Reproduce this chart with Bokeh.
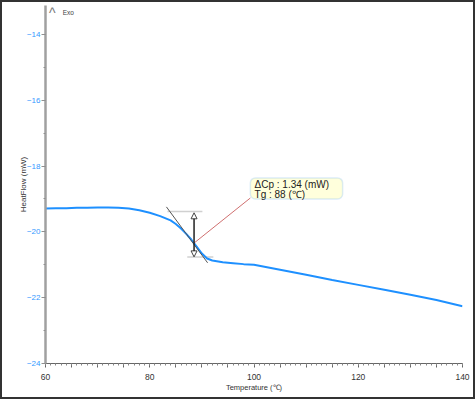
from bokeh.plotting import figure
from bokeh.models import Range1d, FixedTicker, BoxAnnotation, Arrow, NormalHead
from bokeh.core.properties import value
from bokeh.embed import file_html
from bokeh.resources import INLINE

# ---- data ----
temperature = [60, 62, 64, 66, 68, 70, 72, 74, 76, 78, 80, 82, 84, 85, 86, 87, 88, 89, 90,
               91, 92, 94, 96, 98, 100, 105, 110, 115, 120, 125, 130, 135, 140]
heat_flow = [-19.29, -19.28, -19.28, -19.27, -19.27, -19.26, -19.26, -19.27, -19.29, -19.34,
             -19.42, -19.52, -19.65, -19.76, -19.90, -20.06, -20.24, -20.45, -20.66, -20.81,
             -20.87, -20.92, -20.95, -20.98, -21.00, -21.15, -21.30, -21.46, -21.61, -21.76,
             -21.91, -22.07, -22.26]

x_ticks = [60, 80, 100, 120, 140]
y_ticks = [-24, -22, -20, -18, -16, -14]

# glass transition analysis
tg_temp = 88.5
tg_flow = -20.34
tangent_x = [83.2, 91.1]
tangent_y = [-19.24, -20.94]
upper_base_x = [83.4, 90.1]
upper_base_y = [-19.38, -19.38]
lower_base_x = [87.2, 92.2]
lower_base_y = [-20.76, -20.76]
step_top = -19.42
step_bottom = -20.76
label_lines = ["\u0394Cp :  1.34 (mW)", "Tg :  88 (\u2103)"]

FONT = "Liberation Sans"

p = figure(width=475, height=399, output_backend="svg", toolbar_location=None,
           x_range=Range1d(60, 140), y_range=Range1d(-24, -13.12),
           min_border_left=43, min_border_right=15, min_border_top=3, min_border_bottom=38,
           styles={"border": "2px solid #333333"})
p.outline_line_color = None
p.grid.visible = False
p.background_fill_color = "white"
p.border_fill_color = "white"

# x axis
xa = p.xaxis[0]
xa.ticker = FixedTicker(ticks=list(range(60, 141, 5)), minor_ticks=list(range(60, 141, 1)))
xa.major_label_overrides = {t: "" for t in range(60, 141, 5) if t not in x_ticks}
xa.axis_line_color = "#666666"
xa.major_tick_line_color = "#666666"
xa.minor_tick_line_color = "#888888"
xa.major_tick_out = 4
xa.major_tick_in = 0
xa.minor_tick_out = 2
xa.minor_tick_in = 0
xa.major_label_text_font = FONT
xa.major_label_text_font_size = "8.5px"
xa.major_label_text_color = "#333333"
xa.major_label_standoff = 6
xa.axis_label = "Temperature (\u2103)"
xa.axis_label_text_font = FONT
xa.axis_label_text_font_size = "7.5px"
xa.axis_label_text_font_style = "normal"
xa.axis_label_text_color = "#333333"
xa.axis_label_standoff = 0

# y axis
ya = p.yaxis[0]
ya.ticker = FixedTicker(ticks=y_ticks, minor_ticks=list(range(-24, -13, 1)))
ya.axis_line_color = "#a0a0a0"
ya.axis_line_width = 2.5
ya.major_tick_line_color = "#909090"
ya.minor_tick_line_color = "#909090"
ya.major_tick_out = 4
ya.major_tick_in = 0
ya.minor_tick_out = 2
ya.minor_tick_in = 0
ya.major_label_text_font = FONT
ya.major_label_text_font_size = "8px"
ya.major_label_text_color = "#3399ff"
ya.major_label_standoff = 1
ya.axis_label = "HeatFlow (mW)"
ya.axis_label_text_font = FONT
ya.axis_label_text_font_size = "8px"
ya.axis_label_text_font_style = "normal"
ya.axis_label_text_color = "#333333"
ya.axis_label_standoff = -4

# callout box (below glyphs)
box_left, box_right, box_top, box_bottom = 99.3, 117.0, -18.36, -19.0
box = BoxAnnotation(left=box_left, right=box_right, top=box_top, bottom=box_bottom,
                    fill_color="#ffffdc", fill_alpha=1, line_color="#8cc0ef",
                    line_width=1.5, border_radius=5, level="underlay")
p.add_layout(box)

# baselines
p.line(upper_base_x, upper_base_y, line_color="#d0d0d0", line_width=1.5)
p.line(lower_base_x, lower_base_y, line_color="#d0d0d0", line_width=1.5)

# curve
p.line(temperature, heat_flow, line_color="#1e90ff", line_width=2)

# tangent
p.line(tangent_x, tangent_y, line_color="#555555", line_width=1)

# step arrows
p.add_layout(Arrow(x_start=tg_temp, y_start=tg_flow, x_end=tg_temp, y_end=step_top,
                   line_color="#222222", line_width=1.5,
                   end=NormalHead(size=6, fill_color="white", line_color="#444444", line_width=1)))
p.add_layout(Arrow(x_start=tg_temp, y_start=tg_flow, x_end=tg_temp, y_end=step_bottom,
                   line_color="#222222", line_width=1.5,
                   end=NormalHead(size=6, fill_color="white", line_color="#444444", line_width=1)))

# callout leader and text
p.line([tg_temp, box_left], [tg_flow, box_bottom + 0.03], line_color="#d07070", line_width=1)
p.text(x=[100.1, 100.1], y=[-18.57, -18.85], text=label_lines,
       text_font=value(FONT), text_font_size="10px", text_color="#222222",
       text_baseline="middle", text_align="left")

# Exo marker
p.text(x=[61.3], y=[-13.36], text=["^"], text_font=value(FONT), text_font_size="14px",
       text_color="#777777", text_baseline="middle", text_align="center")
p.text(x=[63.3], y=[-13.33], text=["Exo"], text_font=value(FONT), text_font_size="6.5px",
       text_color="#444444", text_baseline="middle", text_align="left")

open("out.html", "w").write(file_html(p, INLINE))
